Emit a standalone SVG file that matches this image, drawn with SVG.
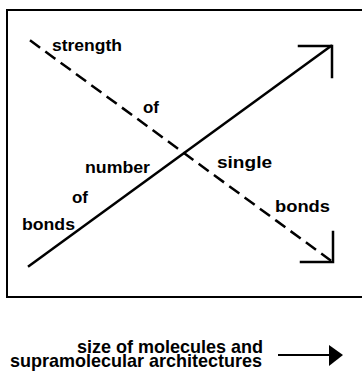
<svg xmlns="http://www.w3.org/2000/svg" width="362" height="373" viewBox="0 0 362 373">
<style>
text{font-family:"Liberation Sans",Arial,sans-serif;font-weight:bold;fill:#000}
.l{font-size:16px}
.b{font-size:19px}
.ln{fill:none;stroke:#000;stroke-width:2.5;stroke-linecap:square}
</style>
<rect width="362" height="373" fill="#fff"/>
<g id="frame"><path d="M364,10 H7 V297 H364" fill="none" stroke="#000" stroke-width="2"/></g>
<g id="connectors">
<path class="ln" d="M29,266 L331,46"/>
<path class="ln" d="M299,46 H332 V77"/>
<path class="ln" d="M31,41 L330,260" stroke-dasharray="10,9"/>
<path class="ln" d="M301,262 H333 V232"/>
<path d="M278,355 H330" stroke="#000" stroke-width="2"/>
<path d="M329,345 L343,355 L329,366 Z" fill="#000"/>
</g>
<g id="labels">
<text class="l" x="52" y="51" textLength="70" lengthAdjust="spacingAndGlyphs">strength</text>
<text class="l" x="143" y="113" textLength="16" lengthAdjust="spacingAndGlyphs">of</text>
<text class="l" x="85" y="173" textLength="65" lengthAdjust="spacingAndGlyphs">number</text>
<text class="l" x="217" y="168" textLength="55" lengthAdjust="spacingAndGlyphs">single</text>
<text class="l" x="72" y="203" textLength="16" lengthAdjust="spacingAndGlyphs">of</text>
<text class="l" x="22" y="230" textLength="53" lengthAdjust="spacingAndGlyphs">bonds</text>
<text class="l" x="275" y="212" textLength="55" lengthAdjust="spacingAndGlyphs">bonds</text>
</g>
<g id="caption">
<text class="b" x="77" y="353" textLength="186" lengthAdjust="spacingAndGlyphs">size of molecules and</text>
<text class="b" x="10" y="367" textLength="252" lengthAdjust="spacingAndGlyphs">supramolecular architectures</text>
</g>
</svg>
